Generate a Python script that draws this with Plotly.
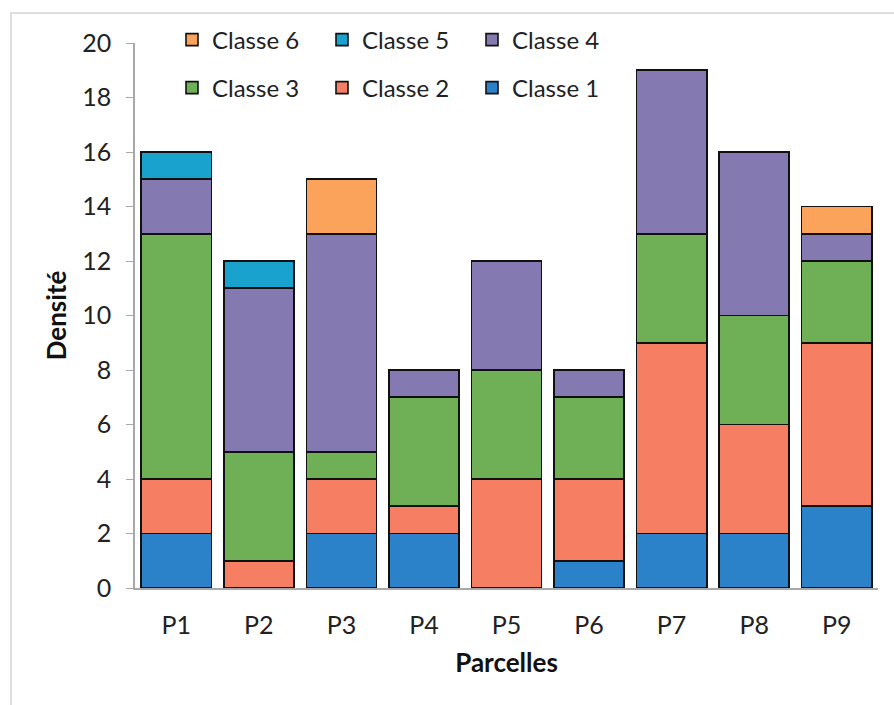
import plotly.graph_objects as go

parcelles = ["P1", "P2", "P3", "P4", "P5", "P6", "P7", "P8", "P9"]

classe_1 = [2, 0, 2, 2, 0, 1, 2, 2, 3]
classe_2 = [2, 1, 2, 1, 4, 3, 7, 4, 6]
classe_3 = [9, 4, 1, 4, 4, 3, 4, 4, 3]
classe_4 = [2, 6, 8, 1, 4, 1, 6, 6, 1]
classe_5 = [1, 1, 0, 0, 0, 0, 0, 0, 0]
classe_6 = [0, 0, 2, 0, 0, 0, 0, 0, 1]

series = [
    ("Classe 1", classe_1, "#2b82c9", "legend2"),
    ("Classe 2", classe_2, "#f67f63", "legend2"),
    ("Classe 3", classe_3, "#6fb057", "legend2"),
    ("Classe 4", classe_4, "#8479b1", "legend"),
    ("Classe 5", classe_5, "#1aa2cf", "legend"),
    ("Classe 6", classe_6, "#fba35a", "legend"),
]

FONT = "Lato, Carlito, Calibri, sans-serif"

fig = go.Figure()
for name, vals, color, leg in series:
    fig.add_trace(go.Bar(
        x=parcelles,
        y=[v if v else None for v in vals],
        name=name,
        legend=leg,
        marker=dict(color=color, line=dict(color="#111111", width=1.6)),
        hoverinfo="skip",
    ))

W, H = 894, 705
ml, mr, mt, mb = 135, 16, 43, 117
pw, ph = W - ml - mr, H - mt - mb


def px_x(p):
    return (p - ml) / pw


def px_y(p):
    return (H - mb - p) / ph


legend_common = dict(
    orientation="h",
    xanchor="left",
    yanchor="middle",
    entrywidth=105,
    entrywidthmode="pixels",
    traceorder="reversed",
    font=dict(family=FONT, size=24, color="#222222"),
    bgcolor="rgba(0,0,0,0)",
    itemclick=False,
)

fig.update_layout(
    width=W,
    height=H,
    margin=dict(l=ml, r=mr, t=mt, b=mb),
    paper_bgcolor="white",
    plot_bgcolor="white",
    barmode="stack",
    bargap=0.15,
    font=dict(family=FONT, size=24, color="#222222"),
    showlegend=True,
    legend=dict(x=px_x(172), y=px_y(40), **legend_common),
    legend2=dict(x=px_x(172), y=px_y(88), **legend_common),
    xaxis=dict(
        showline=True,
        linecolor="#a8a8a8",
        linewidth=1.5,
        ticks="",
        showgrid=False,
        ticklabelstandoff=14,
        tickfont=dict(family=FONT, size=25, color="#222222"),
        title=dict(text="<b>Parcelles</b>", standoff=16,
                   font=dict(family=FONT, size=26, color="#111111")),
    ),
    yaxis=dict(
        range=[0, 20],
        tickvals=list(range(0, 21, 2)),
        showline=True,
        linecolor="#a8a8a8",
        linewidth=1.5,
        ticks="outside",
        ticklen=7,
        tickcolor="#a8a8a8",
        showgrid=False,
        zeroline=False,
        ticklabelstandoff=10,
        tickfont=dict(family=FONT, size=25, color="#222222"),
        title=dict(text="<b>Densité</b>", standoff=8,
                   font=dict(family=FONT, size=26, color="#111111")),
    ),
    shapes=[dict(
        type="rect",
        xref="paper", yref="paper",
        x0=px_x(11), x1=px_x(W + 10),
        y0=px_y(H + 10), y1=px_y(13),
        line=dict(color="#d4d4d4", width=1.5),
        fillcolor="rgba(0,0,0,0)",
        layer="below",
    )],
)

fig.write_html("out.html")
